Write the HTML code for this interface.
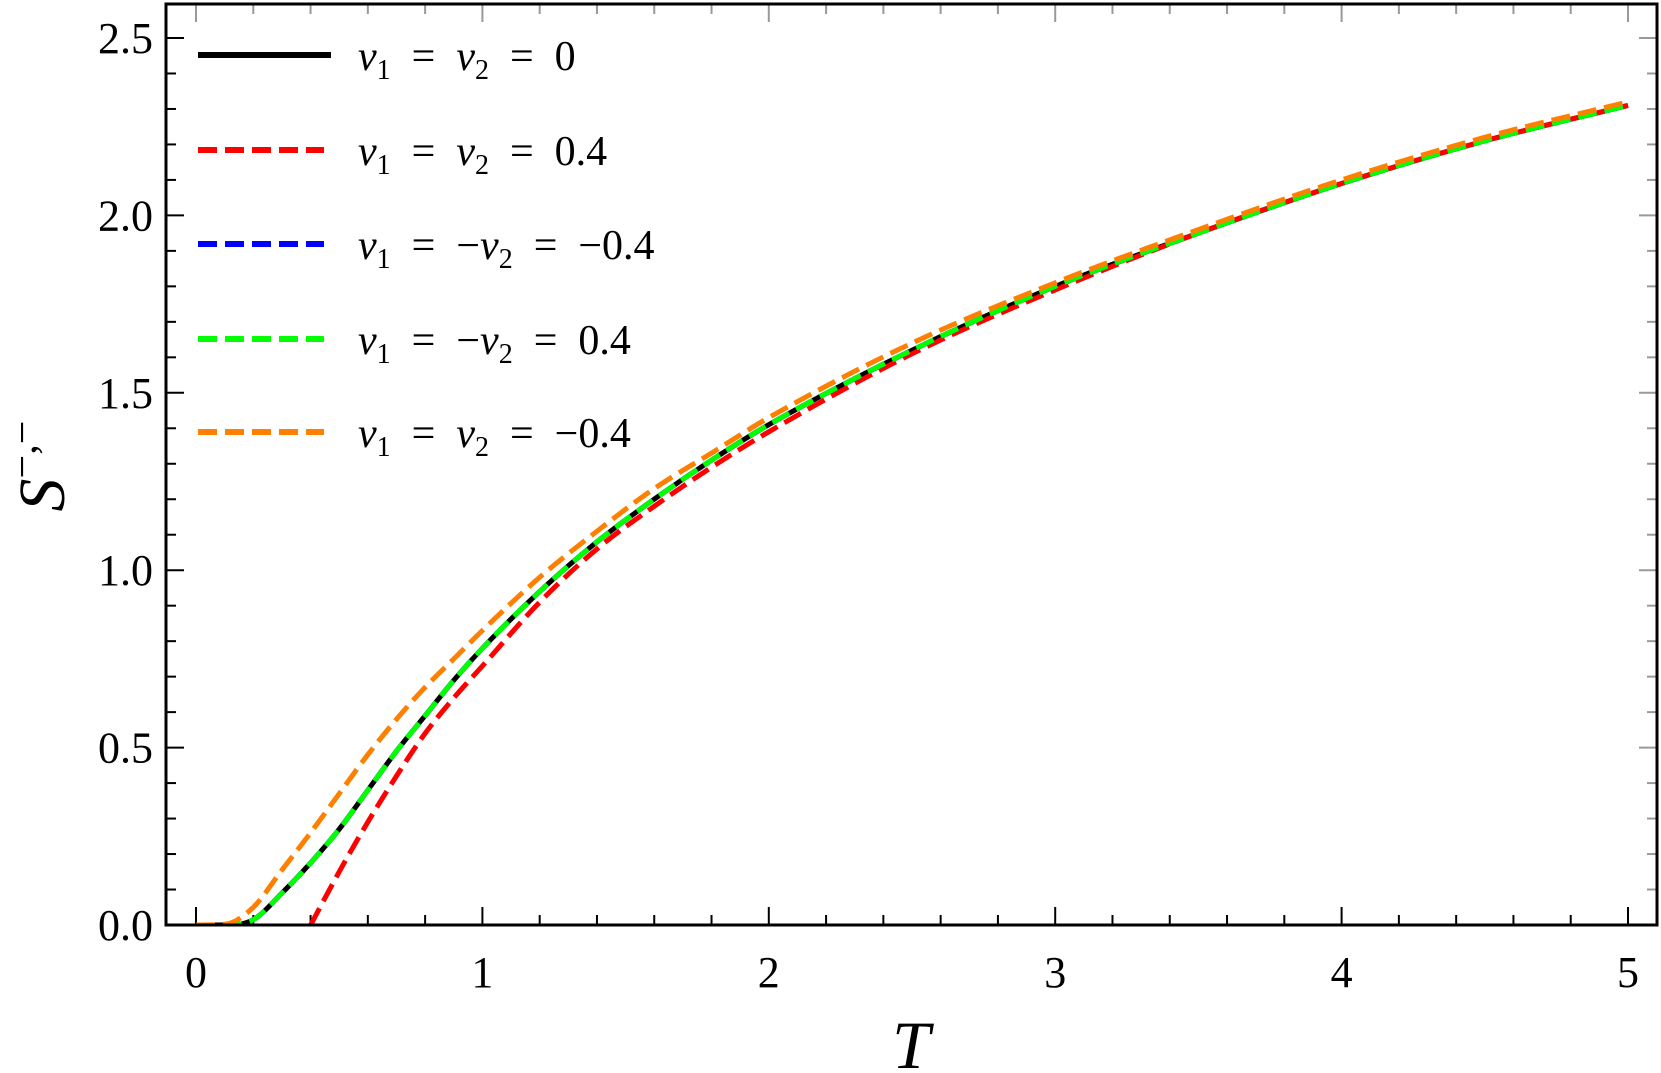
<!DOCTYPE html>
<html><head><meta charset="utf-8"><style>
html,body{margin:0;padding:0;background:#fff}
svg{display:block}
text{font-family:"Liberation Serif","DejaVu Serif",serif}
</style></head><body>
<svg id="chart" width="1661" height="1073" viewBox="0 0 1661 1073" xmlns="http://www.w3.org/2000/svg">
<rect x="0" y="0" width="1661" height="1073" fill="#fff"/>
<g id="ticks"></g>
<g id="curves"></g>
<rect x="166" y="4" width="1491" height="921" fill="none" stroke="#000" stroke-width="3"/>
<text x="911" y="1068" font-size="68" font-style="italic" text-anchor="middle">T</text>
<text transform="translate(64,466) rotate(-90)" font-size="66" font-style="italic" text-anchor="middle">S<tspan font-size="42" font-style="normal" dy="-28">−,−</tspan></text>
<g id="legend"></g>
</svg>
<script>
const T = [0,0.1,0.2,0.3,0.4,0.5,0.6,0.7,0.8,0.9,1.0,1.2,1.4,1.6,1.8,2.0,2.5,3.0,3.5,4.0,4.5,5.0];
const sZero = [0,0,0.015,0.09,0.175,0.27,0.38,0.49,0.59,0.69,0.78,0.94,1.08,1.2,1.31,1.41,1.62,1.80,1.95,2.09,2.21,2.31];
const sPos = [null,null,null,null,0,0.15,0.29,0.42,0.54,0.64,0.73,0.91,1.06,1.18,1.29,1.39,1.61,1.79,1.95,2.09,2.21,2.31];
const sAntiNeg = sZero;
const sAntiPos = sZero;
const sNeg = [0,0.002,0.05,0.155,0.26,0.37,0.48,0.58,0.67,0.75,0.83,0.98,1.11,1.23,1.33,1.43,1.64,1.81,1.96,2.10,2.22,2.32];
const xTicks = [0,1,2,3,4,5];
const yTicks = [0.0,0.5,1.0,1.5,2.0,2.5];
const yTickLabels = ["0.0","0.5","1.0","1.5","2.0","2.5"];

const NS="http://www.w3.org/2000/svg";
const X0=196, XU=286.4, Y0=925, YU=354.8;
const xs=t=>X0+t*XU, ys=v=>Y0-v*YU;
function mk(tag,attrs,parent){const e=document.createElementNS(NS,tag);for(const k in attrs)e.setAttribute(k,attrs[k]);parent.appendChild(e);return e;}
const tg=document.getElementById('ticks');
for(let i=0;i<=26;i++){const t=i*0.2;const x=xs(t);if(x>1657)break;const major=Math.abs(t-Math.round(t))<1e-9;
 const l=mk('line',{x1:x,x2:x,y1:Y0,y2:Y0-(major?18:10),stroke:'#000','stroke-width':2},tg);
 
 
 const l2=mk('line',{x1:x,x2:x,y1:4,y2:4+(major?18:10),stroke:'#999','stroke-width':2},tg);
 
 }
xTicks.forEach(t=>{const e=mk('text',{x:xs(t),y:987,'font-size':44,'text-anchor':'middle'},tg);e.textContent=String(t);
 
 });
for(let i=0;i<=25;i++){const v=i*0.1;const y=ys(v);const major=i%5===0;
 const l=mk('line',{x1:166,x2:166+(major?18:10),y1:y,y2:y,stroke:'#000','stroke-width':2},tg);
 
 
 const l2=mk('line',{x1:1657,x2:1657-(major?18:10),y1:y,y2:y,stroke:'#999','stroke-width':2},tg);
 
 }
yTicks.forEach((v,i)=>{const e=mk('text',{x:153,y:ys(v)+15,'font-size':44,'text-anchor':'end'},tg);e.textContent=yTickLabels[i];
 
 });
const cg=document.getElementById('curves');
function smoothSeg(px,py){const n=px.length;if(n<2)return '';
 const d=[],m=[];for(let i=0;i<n-1;i++)d.push((py[i+1]-py[i])/(px[i+1]-px[i]));
 m[0]=d[0];m[n-1]=d[n-2];
 for(let i=1;i<n-1;i++){m[i]=(d[i-1]*d[i]<=0)?0:(d[i-1]+d[i])/2;}
 for(let i=0;i<n-1;i++){if(d[i]===0){m[i]=0;m[i+1]=0;continue;}const a=m[i]/d[i],b=m[i+1]/d[i],h=a*a+b*b;if(h>9){const tt=3/Math.sqrt(h);m[i]=tt*a*d[i];m[i+1]=tt*b*d[i];}}
 let s='M'+px[0].toFixed(1)+' '+py[0].toFixed(1);
 for(let i=0;i<n-1;i++){const h=(px[i+1]-px[i])/3;
  s+=' C'+(px[i]+h).toFixed(1)+' '+(py[i]+m[i]*h).toFixed(1)+' '+(px[i+1]-h).toFixed(1)+' '+(py[i+1]-m[i+1]*h).toFixed(1)+' '+px[i+1].toFixed(1)+' '+py[i+1].toFixed(1);}
 return s;}
function pathOf(vals){const px=[],py=[];T.forEach((t,i)=>{const v=vals[i];if(v===null)return;px.push(xs(t));py.push(ys(v));});return smoothSeg(px,py);}
const series=[
 {vals:sZero,color:'#000',dash:null,name:'curve-nu-zero'},
 {vals:sPos,color:'#ff0000',dash:'19 8',name:'curve-nu-equal-pos'},
 {vals:sAntiNeg,color:'#0000ff',dash:'19 8',name:'curve-nu-anti-neg'},
 {vals:sAntiPos,color:'#00ff00',dash:'19 8',name:'curve-nu-anti-pos'},
 {vals:sNeg,color:'#ff8000',dash:'19 8',name:'curve-nu-equal-neg'}];
const cp=mk('clipPath',{id:'clip'},cg);mk('rect',{x:166,y:4,width:1491,height:921},cp);
series.forEach(s=>{const p=mk('path',{d:pathOf(s.vals),fill:'none',stroke:s.color,'stroke-width':5,'clip-path':'url(#clip)','stroke-linejoin':'round'},cg);
 if(s.dash)p.setAttribute('stroke-dasharray',s.dash);
 
 });
const lg=document.getElementById('legend');
const labels=[
 ['ν','1',' = ','ν','2',' = 0'],
 ['ν','1',' = ','ν','2',' = 0.4'],
 ['ν','1',' = −','ν','2',' = −0.4'],
 ['ν','1',' = −','ν','2',' = 0.4'],
 ['ν','1',' = ','ν','2',' = −0.4']];
const ly=[55,150,244,339,432];
series.forEach((s,i)=>{const y=ly[i];
 const l=mk('line',{x1:198,x2:s.dash?324:331,y1:y,y2:y,stroke:s.color,'stroke-width':6},lg);
 if(s.dash)l.setAttribute('stroke-dasharray','19 8');
 
 
 const t=mk('text',{x:358,y:y+15,'font-size':42},lg);
 
 
 const a=labels[i];
 const add=(txt,attrs)=>{const sp=mk('tspan',attrs,t);sp.textContent=txt;};
 add(a[0],{'font-style':'italic'});add(a[1],{'font-size':28,dy:9});add(a[2].replace(/ /g,'\u2002'),{dy:-9});
 add(a[3],{'font-style':'italic'});add(a[4],{'font-size':28,dy:9});add(a[5].replace(/ /g,'\u2002'),{dy:-9});});
</script>
</body></html>
